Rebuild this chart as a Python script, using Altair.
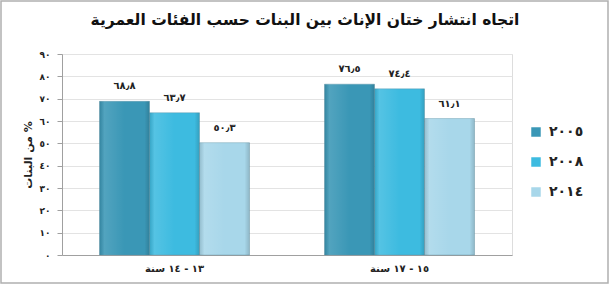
import altair as alt
import pandas as pd

title_text = "اتجاه انتشار ختان الإناث بين البنات حسب الفئات العمرية"
categories = ["١٣ - ١٤ سنة", "١٥ - ١٧ سنة"]
years = ["٢٠٠٥", "٢٠٠٨", "٢٠١٤"]
values_2005 = [68.8, 76.5]
values_2008 = [63.7, 74.4]
values_2014 = [50.3, 61.1]
colors = ["#3a97b6", "#3dbbe0", "#a8d7ea"]
y_ticks = [0, 10, 20, 30, 40, 50, 60, 70, 80, 90]
y_tick_labels = ["٠", "١٠", "٢٠", "٣٠", "٤٠", "٥٠", "٦٠", "٧٠", "٨٠", "٩٠"]

AR_DIGITS = "٠١٢٣٤٥٦٧٨٩"


def to_ar(v):
    s = f"{v:.1f}"
    return "".join(AR_DIGITS[int(c)] if c.isdigit() else "٫" for c in s)


rows = []
for yr, vals in zip(years, [values_2005, values_2008, values_2014]):
    for cat, v in zip(categories, vals):
        rows.append({"cat": cat, "year": yr, "value": v, "label": to_ar(v)})
df = pd.DataFrame(rows)

font = "DejaVu Sans"
label_expr = "[" + ",".join(f"'{t}'" for t in y_tick_labels) + "][round(datum.value/10)]"

x_enc = alt.X("cat:N", sort=categories, title=None,
              scale=alt.Scale(paddingInner=1/3, paddingOuter=1/6),
              axis=alt.Axis(labelAngle=0, labelFontSize=10, labelFont=font, labelFontWeight="bold",
                            labelColor="#222", ticks=False, domainColor="#a0a0a0",
                            labelPadding=8))
y_enc = alt.Y("value:Q", scale=alt.Scale(domain=[0, 90], nice=False),
              title="\u200f% من البنات",
              axis=alt.Axis(values=y_ticks, labelExpr=label_expr, labelFontSize=9, labelFont=font,
                            labelFontWeight="bold", labelColor="#222", tickColor="#a0a0a0",
                            tickSize=5, domainColor="#a0a0a0", gridColor="#e3e3e3",
                            labelOverlap=False,
                            titleFont=font, titleFontSize=11, titleFontWeight="bold",
                            titleColor="#222", titlePadding=6, labelPadding=7))
xo = alt.XOffset("year:N", sort=years)

base = alt.Chart(df)

bars = base.mark_bar(stroke="#5a8fa3", strokeWidth=0.4).encode(
    x=x_enc, y=y_enc, xOffset=xo,
    color=alt.Color("year:N", sort=years,
                    scale=alt.Scale(domain=years, range=colors),
                    legend=alt.Legend(title=None, orient="none", legendX=467, legendY=71,
                                      symbolType="square", symbolSize=90, symbolStrokeWidth=0,
                                      labelFont=font, labelFontSize=14, labelFontWeight="bold",
                                      labelColor="#222", rowPadding=16, labelOffset=6)),
)

sheen = base.mark_bar(
    color=alt.Gradient(
        gradient="linear", x1=0, x2=1, y1=0, y2=0,
        stops=[alt.GradientStop(color="rgba(0,0,0,0.12)", offset=0),
               alt.GradientStop(color="rgba(255,255,255,0.12)", offset=0.1),
               alt.GradientStop(color="rgba(255,255,255,0.0)", offset=0.5),
               alt.GradientStop(color="rgba(0,0,0,0.0)", offset=0.9),
               alt.GradientStop(color="rgba(0,0,0,0.15)", offset=1)])
).encode(x=x_enc, y=y_enc, xOffset=xo)

text = base.mark_text(dy=-15, font=font, fontSize=10, fontWeight="bold", color="#222").encode(
    x=x_enc, y=y_enc, xOffset=xo, text="label:N")

one = pd.DataFrame({"t": [title_text]})
border = alt.Chart(one).mark_rect(
    fill=None, stroke="#b0b0b0", strokeWidth=1.5, clip=False
).encode(x=alt.value(-61), x2=alt.value(546), y=alt.value(-53), y2=alt.value(229))

title = alt.Chart(one).mark_text(
    font=font, fontSize=15.5, fontWeight="bold", color="#111", align="center", baseline="middle"
).encode(x=alt.value(243), y=alt.value(-34), text="t:N")

chart = alt.layer(bars, sheen, text, border, title).properties(
    width=450, height=201,
    padding={"left": 62, "top": 54, "right": 97, "bottom": 30},
    autosize=alt.AutoSizeParams(type="none"),
).configure_view(stroke=None).configure(background="white")

chart.save("out.html", embed_options={"renderer": "svg", "actions": False})
